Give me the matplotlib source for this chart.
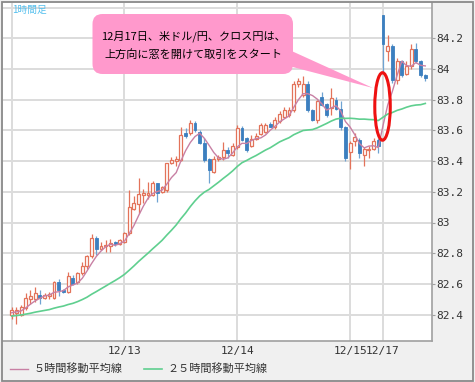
import numpy as np
import pandas as pd
import matplotlib
matplotlib.use("Agg")
import matplotlib.pyplot as plt
from matplotlib.patches import FancyBboxPatch, Polygon, Ellipse, Rectangle

plt.rcParams['font.family'] = ['Noto Sans CJK JP', 'DejaVu Sans']

# ---------------- data (1-hour candles, index 0 = 12/12 00:00) ----------------
# closes of the 24 hours before the first visible candle (only feed the moving averages)
prior_closes = [82.36, 82.35, 82.37, 82.38, 82.36, 82.37, 82.39, 82.40, 82.38, 82.37,
                82.39, 82.40, 82.41, 82.39, 82.38, 82.40, 82.41, 82.40, 82.39, 82.41,
                82.40, 82.42, 82.41, 82.40]
opens = [82.40, 82.41, 82.40, 82.44, 82.50, 82.50, 82.53, 82.51, 82.52, 82.51,
         82.615, 82.56, 82.545, 82.64, 82.61, 82.67, 82.715, 82.78, 82.90, 82.83,
         82.845, 82.85, 82.875, 82.86, 82.875, 82.93, 83.09, 83.12, 83.18, 83.18,
         83.18, 83.255, 83.20, 83.21, 83.385, 83.40, 83.41, 83.58, 83.58, 83.65,
         83.59, 83.52, 83.415, 83.33, 83.415, 83.425, 83.475, 83.44, 83.49, 83.615,
         83.55, 83.50, 83.545, 83.575, 83.59, 83.64, 83.625, 83.66, 83.69, 83.70,
         83.735, 83.90, 83.83, 83.905, 83.735, 83.67, 83.82, 83.77, 83.745, 83.80,
         83.74, 83.62, 83.46, 83.53, 83.54, 83.44, 83.47, 83.48, 83.54, 84.35,
         84.115, 84.15, 83.93, 84.05, 83.97, 84.02, 84.13, 84.05, 83.96]
highs = [82.45, 82.45, 82.46, 82.54, 82.56, 82.58, 82.56, 82.54, 82.55, 82.62,
         82.63, 82.57, 82.68, 82.66, 82.68, 82.745, 82.79, 82.925, 82.91, 82.87,
         82.885, 82.89, 82.88, 82.89, 82.94, 83.21, 83.17, 83.29, 83.22, 83.265,
         83.27, 83.26, 83.24, 83.39, 83.425, 83.43, 83.625, 83.615, 83.67, 83.66,
         83.60, 83.55, 83.42, 83.43, 83.44, 83.525, 83.49, 83.52, 83.635, 83.63,
         83.56, 83.57, 83.58, 83.65, 83.65, 83.655, 83.685, 83.725, 83.75, 83.75,
         83.92, 83.94, 83.955, 83.92, 83.74, 83.80, 83.85, 83.78, 83.875, 83.82,
         83.79, 83.63, 83.53, 83.58, 83.55, 83.49, 83.50, 83.55, 83.55, 84.35,
         84.22, 84.16, 84.07, 84.06, 84.05, 84.16, 84.17, 84.06, 83.97]
lows = [82.37, 82.34, 82.39, 82.43, 82.47, 82.48, 82.47, 82.50, 82.50, 82.50,
        82.52, 82.54, 82.54, 82.59, 82.60, 82.66, 82.70, 82.77, 82.79, 82.82,
        82.81, 82.81, 82.85, 82.855, 82.865, 82.92, 83.08, 83.06, 83.125, 83.15,
        83.17, 83.135, 83.19, 83.20, 83.38, 83.365, 83.40, 83.55, 83.57, 83.59,
        83.51, 83.395, 83.255, 83.32, 83.40, 83.41, 83.42, 83.43, 83.48, 83.53,
        83.46, 83.49, 83.54, 83.57, 83.58, 83.62, 83.61, 83.65, 83.68, 83.69,
        83.72, 83.88, 83.82, 83.72, 83.66, 83.645, 83.76, 83.69, 83.70, 83.73,
        83.60, 83.40, 83.35, 83.50, 83.42, 83.37, 83.42, 83.47, 83.45, 83.98,
        84.05, 83.91, 83.90, 83.95, 83.96, 84.00, 84.04, 83.95, 83.92]
closes = [82.43, 82.43, 82.45, 82.51, 82.52, 82.54, 82.51, 82.53, 82.535, 82.61,
          82.56, 82.545, 82.65, 82.60, 82.67, 82.715, 82.78, 82.90, 82.83, 82.845,
          82.855, 82.865, 82.86, 82.885, 82.93, 83.10, 83.125, 83.185, 83.19, 83.19,
          83.255, 83.19, 83.23, 83.385, 83.405, 83.415, 83.57, 83.565, 83.65, 83.60,
          83.52, 83.405, 83.34, 83.415, 83.425, 83.475, 83.45, 83.50, 83.615, 83.54,
          83.47, 83.545, 83.565, 83.635, 83.635, 83.625, 83.67, 83.71, 83.735, 83.73,
          83.905, 83.92, 83.905, 83.735, 83.67, 83.79, 83.765, 83.70, 83.81, 83.74,
          83.62, 83.42, 83.52, 83.56, 83.45, 83.48, 83.48, 83.53, 83.50, 84.165,
          84.15, 83.93, 84.05, 83.96, 84.02, 84.13, 84.05, 83.96, 83.94]

day_labels = ['12/13', '12/14', '12/15', '12/17']
day_starts = [24, 48, 72, 79]
extra_vgrid = [0]
ytick_vals = [82.4, 82.6, 82.8, 83.0, 83.2, 83.4, 83.6, 83.8, 84.0, 84.2]
ytick_labels = ['82.4', '82.6', '82.8', '83', '83.2', '83.4', '83.6', '83.8', '84', '84.2']
ygrid_extra = [84.4]

title_text = '1時間足'
note_lines = ['12月17日、米ドル/円、クロス円は、', '上方向に窓を開けて取引をスタート']
legend_labels = ['５時間移動平均線', '２５時間移動平均線']

# ---------------- figure ----------------
W, H = 475, 382
fig = plt.figure(figsize=(W / 100, H / 100), dpi=100)
fig.patch.set_facecolor('#f0f0f0')

L, R, T, B = 3.0, 431.7, 3.0, 340.7
ax = fig.add_axes([L / W, 1 - B / H, (R - L) / W, (B - T) / H])
ax.set_facecolor('white')

px_per_idx = 4.7
x0_px = 11.7
ax.set_xlim((L - x0_px) / px_per_idx, (R - x0_px) / px_per_idx)
ppu = 153.5  # px per price unit
ax.set_ylim(84 - (B - 69) / ppu, 84 + (69 - T) / ppu)

o = np.array(opens); h = np.array(highs); l = np.array(lows); c = np.array(closes)
idx = np.arange(len(c))
up = c >= o

up_col = '#e3735a'
dn_col = '#3c7fbf'
dn_wick = '#6fa3d2'

# grid
for v in ytick_vals + ygrid_extra:
    ax.axhline(v, color='#dcdcdc', lw=1.4, zorder=0)
for d in day_starts + extra_vgrid:
    ax.axvline(d, color='#dcdcdc', lw=1.4, zorder=0)

# wicks
ax.vlines(idx[up], l[up], h[up], color=up_col, lw=0.9, zorder=2)
ax.vlines(idx[~up], l[~up], h[~up], color=dn_wick, lw=0.9, zorder=2)
# bodies
bw = 0.62
body_lo = np.minimum(o, c)
body_h = np.maximum(np.abs(c - o), 0.006)
ax.bar(idx[up], body_h[up], bottom=body_lo[up], width=bw, facecolor='white',
       edgecolor=up_col, linewidth=0.9, zorder=3)
ax.bar(idx[~up], body_h[~up], bottom=body_lo[~up], width=bw, facecolor=dn_col,
       edgecolor=dn_col, linewidth=0.6, zorder=3)

# moving averages (using the preceding hours as history)
full = pd.Series(list(prior_closes) + list(closes))
n_prior = len(prior_closes)
ma5 = full.rolling(5, min_periods=1).mean().to_numpy()[n_prior:]
ma25 = full.rolling(25, min_periods=1).mean().to_numpy()[n_prior:]
l5, = ax.plot(idx, ma5, color='#c880a4', lw=1.0, zorder=4)
l25, = ax.plot(idx, ma25, color='#5fcf8f', lw=1.2, zorder=4)

# red ellipse highlight around the gap
ell = Ellipse((78.9, 83.756), width=3.3, height=0.44, fill=False,
              edgecolor='#ee1111', lw=2.2, zorder=6)
ax.add_patch(ell)

# axes styling
for side in ['top', 'left']:
    ax.spines[side].set_visible(False)
for side in ['right', 'bottom']:
    ax.spines[side].set_color('#a0a0a0')
    ax.spines[side].set_linewidth(1.2)
ax.yaxis.tick_right()
ax.set_yticks(ytick_vals)
ax.set_yticklabels(ytick_labels, family='DejaVu Sans Mono', fontsize=8, color='#333333')
ax.tick_params(axis='y', length=2, pad=1, color='#a0a0a0')
ax.set_xticks(day_starts)
ax.set_xticklabels(day_labels, family='DejaVu Sans Mono', fontsize=8, color='#333333')
ax.tick_params(axis='x', length=0, pad=4)

# legend
fig.legend([l5, l25], legend_labels, loc='center left',
           bbox_to_anchor=(10 / W, 1 - 369 / H), ncol=2, frameon=False,
           fontsize=8, handlelength=1.6, handletextpad=0.55, columnspacing=1.9,
           labelcolor='#333333', borderaxespad=0, borderpad=0)

# overlay in pixel coordinates for title, bubble, outer frame
ov = fig.add_axes([0, 0, 1, 1], zorder=10)
ov.set_xlim(0, W); ov.set_ylim(H, 0); ov.axis('off'); ov.patch.set_alpha(0)

ov.text(12.5, 9.5, title_text, fontsize=7, color='#55c0ee', va='center', ha='left')

pink = '#ff99cc'
ov.add_patch(Polygon([(285, 48), (285, 65), (373, 88)], closed=True,
                     facecolor=pink, edgecolor='none'))
ov.add_patch(FancyBboxPatch((92.5, 14), 200.5, 60,
                            boxstyle='round,pad=0,rounding_size=10',
                            facecolor=pink, edgecolor='none'))
ov.text(193, 36, note_lines[0], fontsize=8, color='black', ha='center', va='center')
ov.text(193, 54.5, note_lines[1], fontsize=8, color='black', ha='center', va='center')

ov.add_patch(Rectangle((1.5, 1.5), 471, 379, fill=False, edgecolor='#8a8a8a', lw=1.3))

fig.savefig('out.png', dpi=100, facecolor=fig.get_facecolor())
